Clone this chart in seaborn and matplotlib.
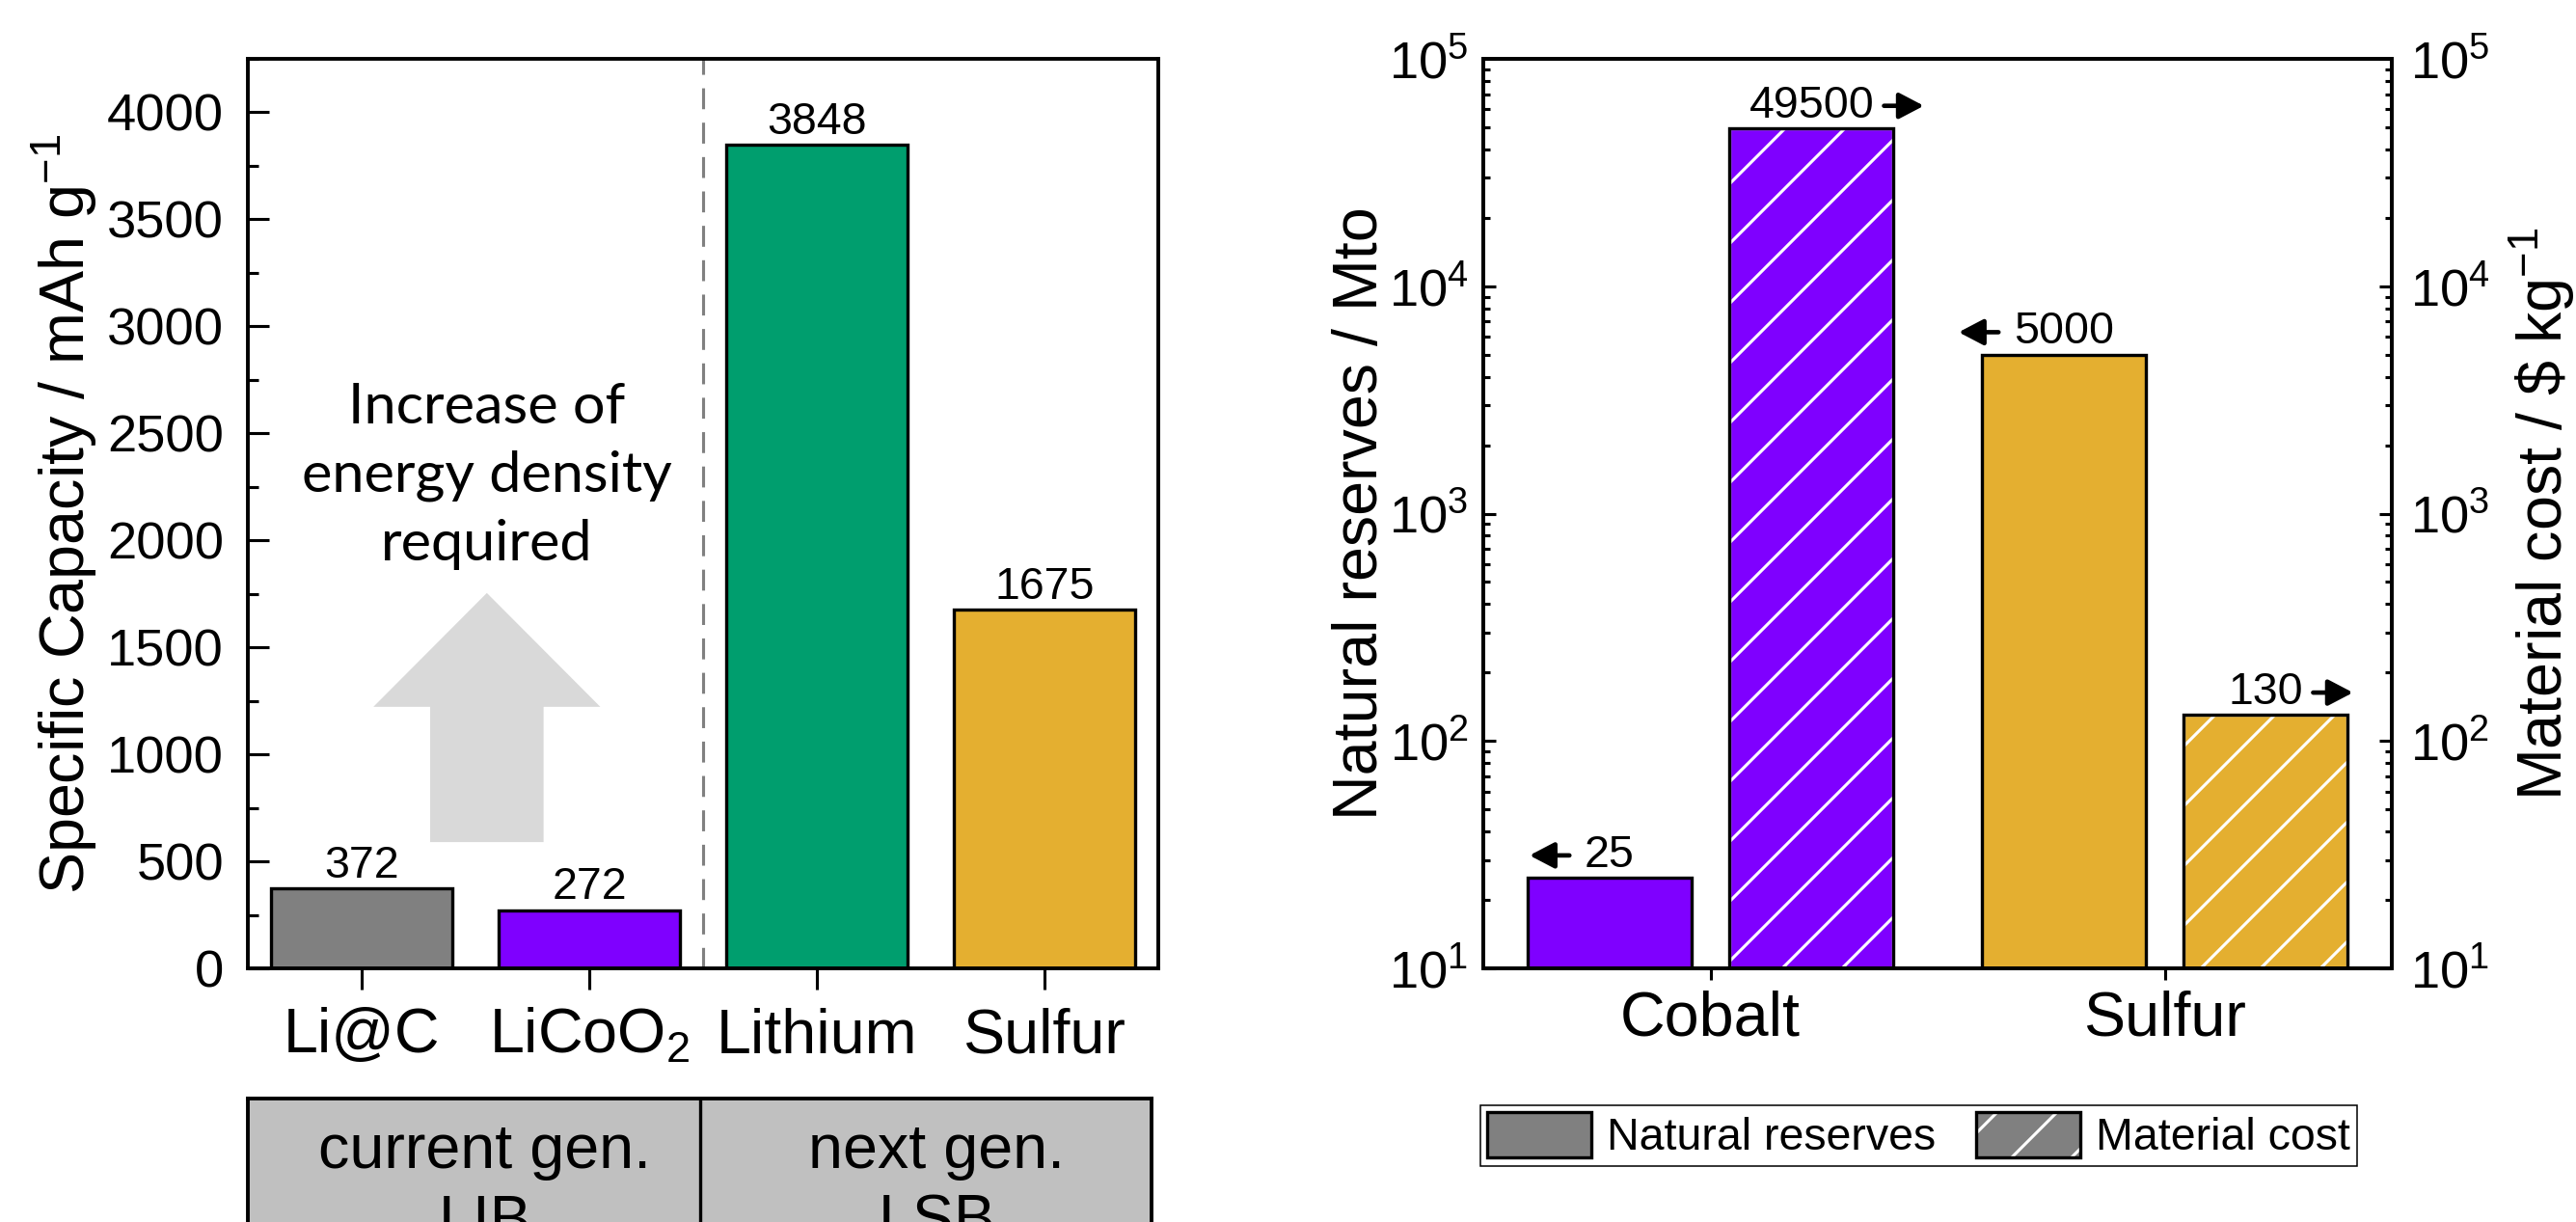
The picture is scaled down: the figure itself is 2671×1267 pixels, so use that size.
import pandas as pd
import matplotlib.pyplot as plt
import matplotlib.ticker as mticker
from matplotlib.patches import Patch, Rectangle
from matplotlib.legend_handler import HandlerTuple
from matplotlib.text import OffsetFrom
import seaborn as sns

# ------------------------------------------------------------
# Data - left panel: specific capacity of electrode materials
# ------------------------------------------------------------
materials = ["Li@C", "LiCoO$_\\mathdefault{2}$", "Lithium", "Sulfur"]
capacity = [372, 272, 3848, 1675]                 # mAh g-1
material_colors = ["#808080", "#7F00FF", "#009E6E", "#E4AF30"]
generations = ["current gen.\nLIB", "next gen.\nLSB"]
generation_split = 1.5                            # between LiCoO2 and Lithium

# ------------------------------------------------------------
# Data - right panel: natural reserves and material cost
# ------------------------------------------------------------
elements = ["Cobalt", "Sulfur"]
reserves = [25, 5000]                             # Mto
cost = [49500, 130]                               # $ kg-1
element_colors = ["#7F00FF", "#E4AF30"]
measures = ["Natural reserves", "Material cost"]

# ------------------------------------------------------------
# Style
# ------------------------------------------------------------
W, H, DPI = 2671, 1267, 186
sns.set_theme(style="ticks", rc={
    "axes.edgecolor": "black", "axes.labelcolor": "black",
    "xtick.color": "black", "ytick.color": "black", "text.color": "black",
    "axes.linewidth": 1.5, "hatch.linewidth": 1.2,
})
plt.rcParams["font.family"] = ["Liberation Sans", "DejaVu Sans"]
plt.rcParams["mathtext.fontset"] = "custom"
plt.rcParams["mathtext.rm"] = "Liberation Sans"
plt.rcParams["mathtext.it"] = "Liberation Sans:italic"
plt.rcParams["mathtext.bf"] = "Liberation Sans:bold"

fig = plt.figure(figsize=(W / DPI, H / DPI), dpi=DPI)


def px_box(x0, y0, x1, y1):
    # pixel box (top-left origin) -> figure fraction rect
    return [x0 / W, 1 - y1 / H, (x1 - x0) / W, (y1 - y0) / H]


ax1 = fig.add_axes(px_box(257, 61, 1201, 1004))
ax2 = fig.add_axes(px_box(1538, 61, 2480, 1004))

# ============================================================
# LEFT — specific capacity
# ============================================================
cap_df = pd.DataFrame({"material": materials, "capacity": capacity})
sns.barplot(data=cap_df, x="material", y="capacity", hue="material",
            palette=material_colors, saturation=1, width=0.8,
            edgecolor="black", linewidth=1.3, errorbar=None,
            legend=False, ax=ax1)
for cont in ax1.containers:
    ax1.bar_label(cont, fmt="%d", padding=0.5, fontsize=18)

ax1.axvline(generation_split, color="#808080", lw=1.2, ls=(0, (7, 4.5)), zorder=0)
ax1.set_xlim(-0.5, 3.5)
ax1.set_ylim(0, 4250)
ax1.yaxis.set_major_locator(mticker.MultipleLocator(500))
ax1.yaxis.set_minor_locator(mticker.AutoMinorLocator(2))
ax1.set_xlabel("")
ax1.set_ylabel("Specific Capacity / mAh g$^{\\mathdefault{-1}}$", fontsize=25)
ax1.yaxis.set_label_coords(-0.163, 0.5)
ax1.tick_params(axis="y", which="both", direction="in", left=True, right=False,
                labelsize=21, pad=9.7, width=1.2)
ax1.tick_params(axis="y", which="major", length=8.5)
ax1.tick_params(axis="y", which="minor", length=4.3)
ax1.tick_params(axis="x", direction="out", length=8.5, width=1.2,
                labelsize=25, pad=7, top=False)

# hint: big grey arrow + text
ax1.arrow(0.55, 590, 0, 1164, width=0.4985, head_width=0.997, head_length=532,
          length_includes_head=True, color="#D9D9D9", lw=0, zorder=0)
ax1.text(0.55, 2300, "Increase of\nenergy density\nrequired", family="Lato",
         fontsize=23, ha="center", va="center", linespacing=1.42)

# generation table under the left panel
axt = fig.add_axes(px_box(257, 1139, 1194, 1400))
axt.set_facecolor("#C0C0C0")
axt.set_xlim(0, 2)
axt.set_ylim(0, 1)
axt.axvline(1, color="black", lw=1.3)
axt.set_xticks([])
axt.set_yticks([])
for i, g in enumerate(generations):
    axt.text(i + 0.525, 0.905, g, ha="center", va="top", fontsize=25, linespacing=1.3)

# ============================================================
# RIGHT — natural reserves / material cost (log)
# ============================================================
res_df = pd.DataFrame({
    "element": elements * 2,
    "measure": [measures[0]] * len(elements) + [measures[1]] * len(elements),
    "value": reserves + cost,
})
sns.barplot(data=res_df, x="element", y="value", hue="measure",
            width=0.89, gap=0.19, saturation=1, edgecolor="black",
            linewidth=1.3, errorbar=None, legend=False, ax=ax2)
ax2.set_yscale("log")
ax2.set_ylim(10, 1e5)
ax2.set_xlim(-0.5, 1.5)

res_bars, cost_bars = ax2.containers[0], ax2.containers[1]
for bar, color in zip(res_bars, element_colors):
    bar.set_facecolor(color)
for bar, color in zip(cost_bars, element_colors):
    bar.set_facecolor(color)
    bar.set_edgecolor("white")
    bar.set_hatch("/")
    ax2.add_patch(Rectangle(bar.get_xy(), bar.get_width(), bar.get_height(),
                            fill=False, ec="black", lw=1.3, zorder=bar.get_zorder()))

# value labels + small arrow telling which axis to read
arrow_style = dict(arrowstyle="-|>,head_length=0.42,head_width=0.22",
                   mutation_scale=20, lw=1.8, color="black",
                   shrinkA=0, shrinkB=0)
for cont, side in zip([res_bars, cost_bars], ["left", "right"]):
    texts = ax2.bar_label(cont, fmt="%d", padding=0.5, fontsize=18)
    for t in texts:
        if side == "left":
            ref = OffsetFrom(t, (0, 0.5))
            ax2.annotate("", xy=(-22, 0), xycoords=ref, xytext=(-6, 0),
                         textcoords=ref, arrowprops=arrow_style)
        else:
            ref = OffsetFrom(t, (1, 0.5))
            ax2.annotate("", xy=(20, 0), xycoords=ref, xytext=(4, 0),
                         textcoords=ref, arrowprops=arrow_style)

ax2.set_xlabel("")
ax2.set_ylabel("Natural reserves / Mto", fontsize=25)
ax2.yaxis.set_label_coords(-0.103, 0.5)
ax2.tick_params(axis="y", which="both", direction="in", labelsize=21, pad=6, width=1.2)
ax2.tick_params(axis="y", which="major", length=5.0)
ax2.tick_params(axis="y", which="minor", length=2.7)
ax2.tick_params(axis="x", direction="out", length=4.6, width=1.2,
                labelsize=25, pad=4, top=False)

axr = ax2.twinx()
axr.set_yscale("log")
axr.set_ylim(10, 1e5)
axr.set_ylabel("Material cost / \\$ kg$^{\\mathdefault{-1}}$", fontsize=25)
axr.yaxis.set_label_coords(1.127, 0.5)
axr.tick_params(axis="y", which="both", direction="in", labelsize=21, pad=7.5, width=1.2)
axr.tick_params(axis="y", which="major", length=5.0)
axr.tick_params(axis="y", which="minor", length=2.7)

# legend under right panel
handles = [
    Patch(facecolor="#808080", edgecolor="black", lw=1.3),
    (Patch(facecolor="#808080", edgecolor="white", hatch="/", lw=1),
     Patch(fill=False, edgecolor="black", lw=1.3)),
]
leg = fig.legend(handles, measures, loc="upper left",
                 bbox_to_anchor=(1535 / W, 1 - 1146 / H), ncol=2, fontsize=18,
                 frameon=True, fancybox=False, framealpha=1, edgecolor="black",
                 borderaxespad=0, borderpad=0.15, handlelength=2.32,
                 handleheight=1.18, handletextpad=0.35, columnspacing=0.9,
                 handler_map={tuple: HandlerTuple(ndivide=1, pad=0)})
leg.get_frame().set_linewidth(0.6)

fig.savefig("out.png", dpi=DPI)
